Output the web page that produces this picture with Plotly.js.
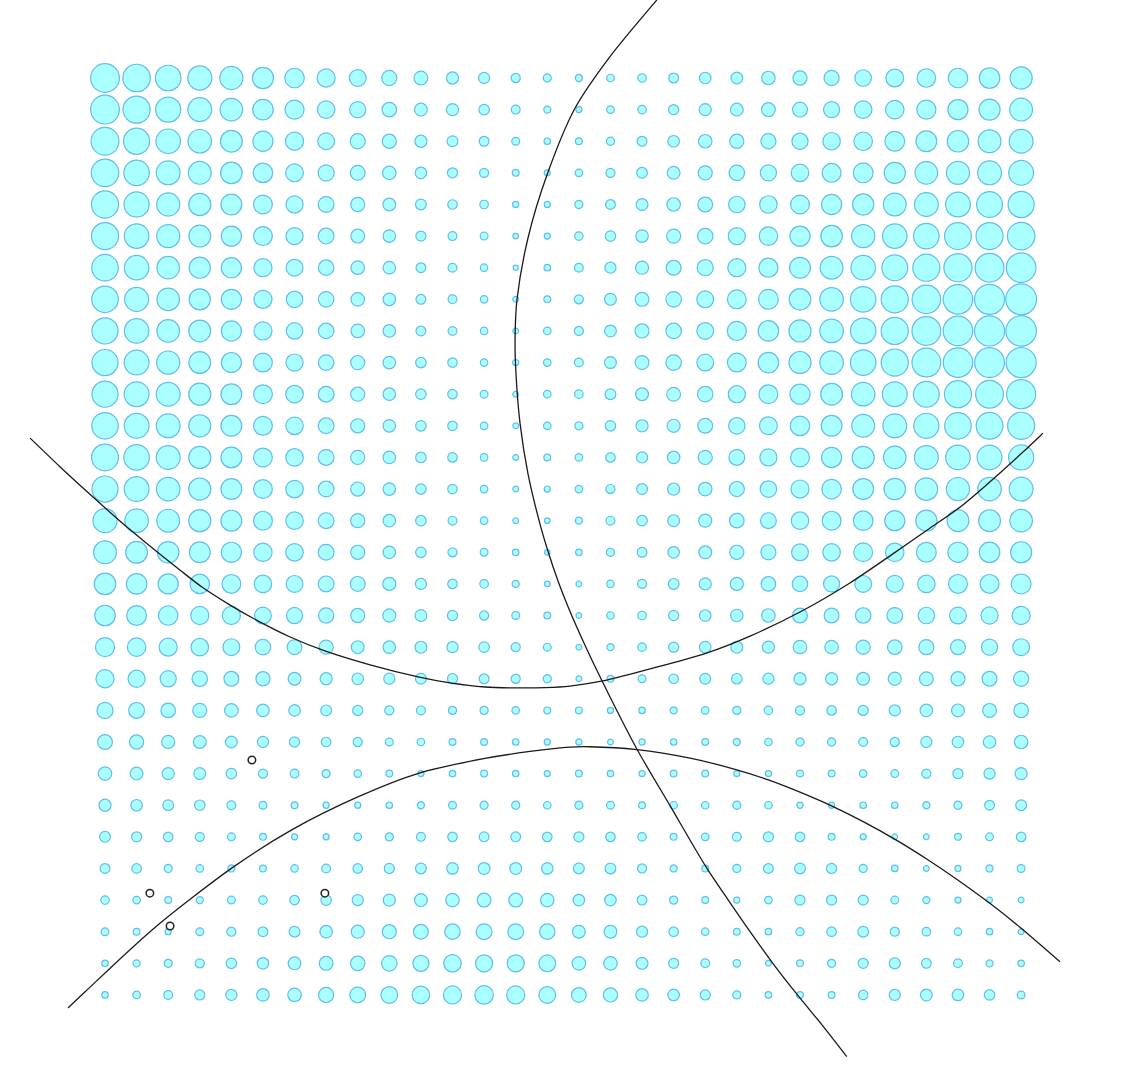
<!DOCTYPE html>
<html>
<head>
<meta charset="utf-8">
<script src="https://cdn.plot.ly/plotly-3.0.1.min.js"></script>
<style>html,body{margin:0;padding:0;background:#fff;}#chart{width:1136px;height:1080px;}</style>
</head>
<body>
<div id="chart"></div>
<script>
// grid indices (columns left to right, rows top to bottom)
const colIndex = Array.from({length: 30}, (_, i) => i);
const rowIndex = Array.from({length: 30}, (_, i) => i);

// dot diameters (px), one array per row
const row00 = [30,28.7,26.7,25.3,24.3,22.3,20.7,19.3,18,16.3,15,13.3,12.3,10.3,9.3,8.3,8.7,9.7,11,12.7,13,14.7,15.3,16.3,17.7,19,19.7,20.7,21.7,23.3];
const row01 = [30,28.3,26.3,25,23.7,21.7,20.3,18.7,17.3,15.7,14,13.3,11.7,10,8.3,7.3,8.7,9.7,11.3,13.3,14,15,16,17.3,18.7,19.7,20.3,21.3,22.3,24];
const row02 = [29,27.3,25.7,24.7,23,21.3,19.3,18,16.3,15.3,13.3,12,11,9,7.7,8,9.3,11,12.7,14.7,15.3,16.3,17.3,18.7,19.7,21,22,22.7,24,25];
const row03 = [28.7,26.7,25,24,22.7,20.7,19,17.3,16,14.7,12.7,11.3,10.3,8,7.3,8.7,10.3,12,14,15.3,16.7,17.3,18.7,20,21,22.3,23.7,24.3,25,26];
const row04 = [28.3,26.3,24.3,23.3,22,20,18.3,17,15.3,14,12,10.7,9.7,7.3,7.3,9.3,11,13,14.7,16,17.7,18.7,20,21.3,22.3,24,25,26,27,27.3];
const row05 = [28.3,25.7,24.3,23,21.3,20,18.3,17,15,13.7,11.3,10,9,6.7,7.3,9.7,11.7,13.7,15.3,16.7,18.3,19.7,21.3,22.7,24.3,25.7,26.7,28,28.3,28.7];
const row06 = [27.7,25.7,23.7,22.3,21.3,19.3,18,16.7,14.7,13.7,11,10,8.7,6.3,7.7,10,12.3,14.3,16,17.3,19.3,20.3,22,24,25.7,27,28.3,29.3,30,30.7];
const row07 = [27.7,25.3,23.7,22.3,21.3,19.3,17.7,16.7,14.7,13.7,11,10,8.7,7,8,10.3,13,15,16.7,18,20,21,22.7,24.7,26.7,28.3,29.7,30.7,31.3,32];
const row08 = [27.3,25.7,23.7,23,21.3,19.3,17.7,16.7,14.7,13.7,11,10,8.7,7,8.7,10.3,13,15.3,16.7,18,20.3,21.7,23.3,24.7,26.7,28.3,30,30.7,31.3,31.7];
const row09 = [27.3,26,24.3,23,21.3,20,18.3,16.7,15.3,13.7,11.7,10.7,8.7,7.3,8.7,10,13,15,16.7,18,20,21.7,23.3,24.7,26.7,28.3,30,30.7,31,31.3];
const row10 = [27.3,26,25,23.3,22,20,18.7,17,15.3,13.7,11.7,10.7,9,7,8.7,9.7,12,14,15,16.7,18.3,20,21.3,23,24.7,26,27,28.3,29,30.3];
const row11 = [27.7,26,25,23.3,22,20,18.7,17,15.3,13.7,11.7,10.7,8.7,7,8.7,9.3,11.7,13.3,14.3,16,17.7,19,20.7,22,24,25,26.3,27.7,28,28.3];
const row12 = [28,26.7,25,23.3,22,20,18.7,17,15.3,13.7,11.7,10.7,8.7,7,8,8.7,10.7,12.3,13.7,15.3,17,18.3,20,21.3,23.3,23.7,25,25.7,26,26.3];
const row13 = [27.3,26,24.7,23.3,22,20,18.7,17,15.3,13.7,11.7,10.7,8.7,7,7.3,8.7,10.3,12,13.3,14.7,16.3,17.7,19.3,20.7,22,22.7,23.7,24.3,24.7,25];
const row14 = [25.3,24.7,24,23.3,22,20,18.7,17,15.3,13.7,11.7,10,8.7,7,6.7,8.3,10,11.7,13,14.3,15.7,17,18.7,20,20.7,21.3,22.3,23,23,23.7];
const row15 = [24,23,22.7,22,21.3,19.5,18.7,17,15.3,13.7,11.7,10.3,9,7.7,6.7,7.7,9.3,11,12.7,14,15.3,16.3,18,18.7,20,19.7,21,21.3,21.7,22.3];
const row16 = [22.7,21.7,21.3,20.7,20,18.7,18,17,16,14.3,12.3,10.7,9.7,8.3,6.7,7,8.7,10.3,12,13.3,14.3,15.7,16.7,17.3,18,18.3,18.7,20,20,21];
const row17 = [21.7,21,20.7,19.3,19.3,18,17.3,16.5,15.3,14.3,13,11.3,10.3,9,8,7,8.7,9.7,11.3,12.7,13.7,14.7,16,16,16.7,17,17.7,18,18.3,19.3];
const row18 = [20.3,19.7,19.3,18.7,18,16.7,16,15.3,14,13.7,13,12.3,11.7,10.3,9,7,8.3,9.7,11.3,12.7,13,13.3,14.7,14.7,15.3,15.7,16.3,16.3,17.3,18];
const row19 = [19.3,18.3,17.3,16.7,16,15.3,14,13.3,12.7,12.3,12,11.3,11,10.3,9.3,7,8,9,10.7,12,11.7,12.3,13.3,13.3,14,14.3,15,15.3,16,16.3];
const row20 = [17.3,17,15.7,15.3,14.7,13.7,12.7,12,11.3,10.3,10,9.3,9.3,8.7,8,8,7.3,7.7,8.3,8.7,9.3,9.7,10.3,10.7,11.3,12.3,13.7,14,15,15.7];
const row21 = [16,15.3,14.3,14,13,12.3,11.3,10.7,10.3,9,8.7,8,8,7.7,7.3,7.3,7,7.3,7.7,8,8.3,8.7,9.3,9.3,10,10.3,12.3,12.7,13.7,14.7];
const row22 = [14.7,14,13.3,13,11.7,10.3,10,9.3,8.7,8,7.3,7.7,8,7.7,7.3,8,7.7,7.3,8,8,7.3,7.3,8,8,8.7,9,10.3,11.3,12.3,13.3];
const row23 = [13.3,12.7,12,11.7,10,9,8,7.3,7.3,7.7,8.3,9,9.3,9.3,8.7,9.3,9,8,8.7,8.7,9.3,8.7,7.3,7.3,7.7,7.7,8.3,9.3,11,12];
const row24 = [12,11.3,10.7,10.3,9,8,7.3,7.3,8.7,9.3,10,10.7,11,11,10.7,11.3,10.7,9.7,8,8.7,10,11.3,10.7,8,7.3,7,7,8,9,10.7];
const row25 = [11,10.7,9.3,8.7,8.3,8,8.7,10,10.7,11.3,12,12.7,13,13,12.7,12,12,10.3,8.3,8,9.3,11,12,11.3,9.3,7.7,7,7.3,8.3,9];
const row26 = [9.7,8.7,8,8.3,9,9.7,10.7,11.7,12.3,13.3,14,14.7,15,15,14.7,12.7,12.7,11,9.3,8,7.3,8.7,11.3,11.3,11.3,9,8.3,7.3,7,7];
const row27 = [9,8,7.3,9,10.3,11,12,13.7,14.3,15.3,16,16.7,17,17,16.7,14,14,12.3,10.7,8.7,8,7.7,9.3,10.7,12,10.3,9.7,8.7,7.7,7];
const row28 = [7.7,8.3,9.3,10.3,11.7,12.7,14,15,15.7,16.7,17.3,18.7,18.3,18.3,18,14.7,14.7,13,11.3,10,8.7,7,8,9.3,11.3,12.3,11,10,8.3,7.7];
const row29 = [7.7,8.7,10,11.3,12.3,13.7,14.7,16.3,17,18,18.7,19.3,19.7,19.3,18,16,15.3,13.7,12.7,11.3,9.3,7.7,8,8,10.7,12.3,13,12.7,11.7,9];
const dotRows = [row00,row01,row02,row03,row04,row05,row06,row07,row08,row09,row10,row11,row12,row13,row14,
                 row15,row16,row17,row18,row19,row20,row21,row22,row23,row24,row25,row26,row27,row28,row29];

// boundary curves (grid units)
const curveAx = [17.47,15.95,14.88,13.99,13.39,13.04,12.98,13.01,13.14,13.39,13.77,14.02,14.34,14.66,15.19,15.72,16.84,17.89,19.05,19.73,20.42,21.14,21.92,22.74,23.48];
const curveAy = [-2.47,-0.63,0.95,3.07,5.06,7.02,8.29,9.36,10.94,12.52,14.11,14.96,15.91,16.73,17.93,19.04,21.23,23.02,24.99,26.00,27.00,28.00,29.00,30.00,30.95];
const curveBx = [-2.37,-1.42,-0.38,0.47,1.42,2.37,3.07,3.96,4.84,5.86,6.96,8.39,9.91,10.92,12.03,13.07,13.93,14.72,15.76,17.25,19.06,20.42,22.00,23.58,24.94,26.12,27.07,28.33,29.60,29.69];
const curveBy = [11.39,12.30,13.25,14.01,14.80,15.56,16.10,16.67,17.17,17.68,18.12,18.56,18.94,19.13,19.26,19.29,19.28,19.23,19.07,18.69,18.18,17.65,16.89,15.97,15.05,14.23,13.57,12.49,11.32,11.23];
const curveCx = [-1.17,-0.63,1.48,4.01,5.91,8.02,9.92,12.03,13.45,14.72,15.35,16.83,18.52,20.00,21.00,22.32,23.00,24.00,25.01,26.01,26.96,28.02,29.00,30.23];
const curveCy = [29.41,28.90,26.95,24.99,23.78,22.73,21.99,21.52,21.30,21.16,21.15,21.24,21.51,21.88,22.20,22.72,23.02,23.52,24.08,24.70,25.34,26.11,26.89,27.95];

// sample points (open circles)
const pointX = [4.65,1.42,2.06,6.96];
const pointY = [21.57,25.78,26.82,25.78];

const gx = [], gy = [], gs = [];
dotRows.forEach((row, r) => row.forEach((v, c) => { gx.push(colIndex[c]); gy.push(rowIndex[r]); gs.push(v); }));

const curveLine = {color: '#1a1a1a', width: 1.3, shape: 'spline', smoothing: 0.8};
const traces = [
  {x: gx, y: gy, type: 'scatter', mode: 'markers', hoverinfo: 'skip',
   marker: {size: gs.map(v => v - 1.2), color: '#aaffff', opacity: 1, line: {color: '#66bbee', width: 1.2}}},
  {x: curveAx, y: curveAy, type: 'scatter', mode: 'lines', line: curveLine},
  {x: curveBx, y: curveBy, type: 'scatter', mode: 'lines', line: curveLine},
  {x: curveCx, y: curveCy, type: 'scatter', mode: 'lines', line: curveLine},
  {x: pointX, y: pointY, type: 'scatter', mode: 'markers',
   marker: {size: 7.5, color: '#ffffff', opacity: 1, line: {color: '#222222', width: 1.5}}}
];

const layout = {
  width: 1136, height: 1080,
  margin: {l: 0, r: 0, t: 0, b: 0},
  paper_bgcolor: '#ffffff', plot_bgcolor: '#ffffff',
  showlegend: false,
  xaxis: {range: [-3.324, 32.636], visible: false, showgrid: false, zeroline: false},
  yaxis: {range: [31.69, -2.467], visible: false, showgrid: false, zeroline: false}
};

Plotly.newPlot('chart', traces, layout, {staticPlot: true, displayModeBar: false});
</script>
</body>
</html>
